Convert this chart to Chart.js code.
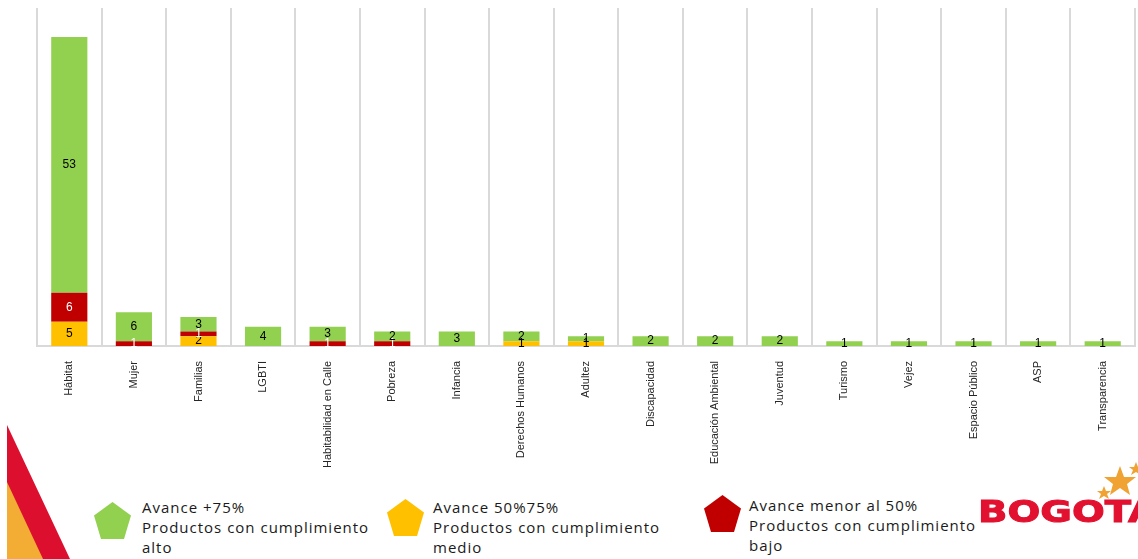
<!DOCTYPE html>
<html>
<head>
    <meta charset="UTF-8">
    <title>Avance de productos por política</title>
    <script src="https://cdn.jsdelivr.net/npm/chart.js"></script>
    <style>
        body {
            margin: 0;
            background: #fff;
            width: 1138px;
            height: 559px;
            overflow: hidden;
            position: relative;
            font-family: "Open Sans", sans-serif;
        }
        #chartBox {
            position: absolute;
            left: 0;
            top: 0;
            width: 1138px;
            height: 488px;
        }
        .legend-text {
            position: absolute;
            font-size: 15px;
            line-height: 20px;
            letter-spacing: 1px;
            color: #1a1a1a;
            white-space: nowrap;
        }
        .deco {
            position: absolute;
        }
    </style>
</head>
<body>
    <div id="chartBox"><canvas id="avanceChart"></canvas></div>

    <!-- franjas de la esquina -->
    <svg class="deco" style="left:0;top:420px" width="90" height="139">
        <polygon points="7,5 70,139 7,139" fill="#dc0f2f"/>
        <polygon points="7,62 43,139 7,139" fill="#f3ad35"/>
    </svg>

    <!-- leyenda -->
    <svg class="deco" style="left:94px;top:502px" width="37" height="37">
        <polygon points="18.5,0 37,13.5 30,37 7,37 0,13.5" fill="#92d050"/>
    </svg>
    <div class="legend-text" style="left:142px;top:497px">Avance +75%<br>Productos con cumplimiento<br>alto</div>

    <svg class="deco" style="left:387px;top:499px" width="37" height="37">
        <polygon points="18.5,0 37,13.5 30,37 7,37 0,13.5" fill="#ffc000"/>
    </svg>
    <div class="legend-text" style="left:433px;top:497px">Avance 50%75%<br>Productos con cumplimiento<br>medio</div>

    <svg class="deco" style="left:704px;top:495px" width="37" height="37">
        <polygon points="18.5,0 37,13.5 30,37 7,37 0,13.5" fill="#c00000"/>
    </svg>
    <div class="legend-text" style="left:749px;top:495px">Avance menor al 50%<br>Productos con cumplimiento<br>bajo</div>

    <!-- logo -->
    <svg class="deco" style="left:970px;top:458px" width="168" height="72">
        <polygon points="150,8 154,19 166,19 157,26 160,37 150,30 140,37 143,26 134,19 146,19" fill="#f0a232"/>
        <polygon points="134,28 136,33 141,33 137,36 139,41 134,38 129,41 131,36 127,33 132,33" fill="#f0a232"/>
        <polygon points="166,4 168,9 173,9 169,12 171,17 166,14 161,17 163,12 159,9 164,9" fill="#f0a232"/>
        <text x="8" y="64" font-family="DejaVu Sans" font-weight="bold" font-size="31" fill="#e1112f"
              stroke="#e1112f" stroke-width="1" textLength="180" lengthAdjust="spacingAndGlyphs">BOGOTÁ</text>
    </svg>

    <script>
        // datos
        const categorias = ['Hábitat', 'Mujer', 'Familias', 'LGBTI', 'Habitabilidad en Calle', 'Pobreza',
            'Infancia', 'Derechos Humanos', 'Adultez', 'Discapacidad', 'Educación Ambiental', 'Juventud',
            'Turismo', 'Vejez', 'Espacio Público', 'ASP', 'Transparencia'];
        const medio = [5, 0, 2, 0, 0, 0, 0, 1, 1, 0, 0, 0, 0, 0, 0, 0, 0];
        const bajo  = [6, 1, 1, 0, 1, 1, 0, 0, 0, 0, 0, 0, 0, 0, 0, 0, 0];
        const alto  = [53, 6, 3, 4, 3, 2, 3, 2, 1, 2, 2, 2, 1, 1, 1, 1, 1];

        // etiquetas en el centro de cada segmento
        const etiquetas = {
            id: 'etiquetas',
            afterDatasetsDraw(chart) {
                const ctx = chart.ctx;
                ctx.save();
                ctx.font = '12px "Liberation Sans", sans-serif';
                ctx.textAlign = 'center';
                ctx.textBaseline = 'middle';
                chart.data.datasets.forEach((ds, i) => {
                    const meta = chart.getDatasetMeta(i);
                    meta.data.forEach((bar, j) => {
                        const v = ds.data[j];
                        if (!v) return;
                        ctx.fillStyle = ds.labelColor;
                        ctx.fillText(v, bar.x, (bar.y + bar.base) / 2);
                    });
                });
                ctx.restore();
            }
        };

        const ctx = document.getElementById('avanceChart').getContext('2d');
        const chart = new Chart(ctx, {
            type: 'bar',
            data: {
                labels: categorias,
                datasets: [
                    { label: 'medio', data: medio, backgroundColor: '#ffc000', labelColor: '#000' },
                    { label: 'bajo', data: bajo, backgroundColor: '#c00000', labelColor: '#fff' },
                    { label: 'alto', data: alto, backgroundColor: '#92d050', labelColor: '#000' }
                ]
            },
            options: {
                responsive: true,
                maintainAspectRatio: false,
                animation: false,
                layout: { padding: { left: 37, right: 3, top: 8, bottom: 5 } },
                datasets: { bar: { barPercentage: 0.56, categoryPercentage: 1 } },
                plugins: { legend: { display: false }, tooltip: { enabled: false } },
                scales: {
                    x: {
                        stacked: true,
                        offset: true,
                        grid: { offset: true, color: '#d9d9d9', lineWidth: 2, drawTicks: false },
                        border: { color: '#d9d9d9', width: 2 },
                        ticks: {
                            autoSkip: false,
                            minRotation: 90,
                            maxRotation: 90,
                            padding: 15,
                            color: '#262626',
                            font: { family: '"Liberation Sans", sans-serif', size: 11 }
                        }
                    },
                    y: {
                        stacked: true,
                        display: false,
                        min: 0,
                        max: 70
                    }
                }
            },
            plugins: [etiquetas]
        });
    </script>
</body>
</html>
